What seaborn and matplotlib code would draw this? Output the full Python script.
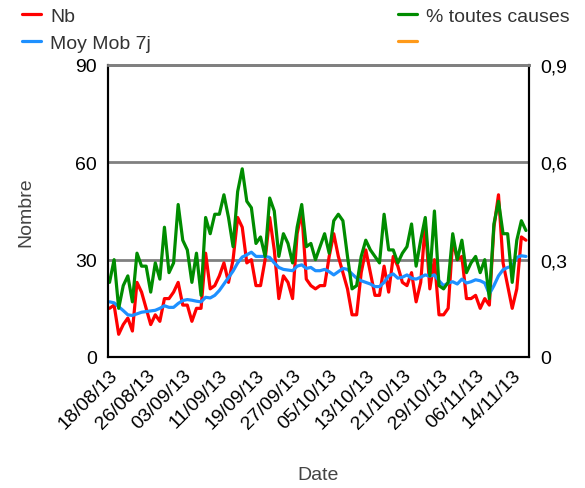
import pandas as pd
import seaborn as sns
import matplotlib.pyplot as plt
from matplotlib.ticker import FuncFormatter

# daily values, 18/08/13 -> 17/11/13
dates = pd.date_range("2013-08-18", "2013-11-17", freq="D")

nb = [15, 16, 7, 10, 12, 8, 23, 20, 15, 10, 13, 11, 18, 18, 20, 23, 16, 16, 11, 15, 15,
      32, 21, 22, 25, 29, 23, 30, 43, 40, 29,
      30, 22, 22, 30, 43, 33, 18, 25, 23, 18,
      38, 45, 24, 22, 21, 22, 22, 31, 38, 31,
      26, 21, 13, 13, 26, 33, 26, 19, 19, 28,
      20, 31, 28, 23, 22, 26, 17, 23, 41, 21,
      30, 13, 13, 15, 36, 30, 31, 18, 18, 19,
      15, 18, 16, 40, 50, 29, 22, 15, 21, 37, 36]

moy_mob = [17, 16.7, 15.5, 14.3, 13, 12.8, 13.3, 13.8, 14, 14.2, 14.4,
           15, 15.8, 15.3, 15.3, 16.5, 17.4, 17.7, 17.5, 17.2, 17,
           18.4, 18.2, 19, 20.5, 22.5, 24.5, 26.5, 29, 30.8, 31.5,
           32.3, 31, 31, 31, 30.7, 29, 27.6, 27, 26.8, 26.6,
           28, 28.4, 27.3, 27.6, 26.6, 26.6, 27, 26.3, 25.3, 26.3,
           27.3, 27, 25.6, 24.3, 23.5, 23, 22.5, 21.7, 21.7, 23,
           25, 25.6, 24.3, 24.6, 25.3, 24.3, 24, 24.6, 25.3, 24.9,
           25.3, 23.5, 22, 22.8, 23.2, 22.5, 24, 22.8, 23.2, 23.8,
           23.5, 22.8, 19.4, 22, 25, 26.9, 27.6, 28, 30.7, 31.2, 31]

pct_toutes_causes = [0.23, 0.30, 0.15, 0.22, 0.25, 0.17, 0.32, 0.28, 0.28, 0.20, 0.29,
                     0.24, 0.40, 0.26, 0.29, 0.47, 0.36, 0.33, 0.23, 0.32, 0.19,
                     0.43, 0.38, 0.44, 0.44, 0.50, 0.43, 0.34, 0.51, 0.58, 0.48,
                     0.46, 0.35, 0.37, 0.31, 0.49, 0.45, 0.31, 0.38, 0.35, 0.29,
                     0.40, 0.47, 0.34, 0.35, 0.30, 0.34, 0.38, 0.32, 0.42, 0.44,
                     0.42, 0.31, 0.21, 0.22, 0.31, 0.36, 0.33, 0.31, 0.29, 0.44,
                     0.33, 0.33, 0.29, 0.32, 0.34, 0.41, 0.28, 0.36, 0.43, 0.25,
                     0.45, 0.22, 0.21, 0.23, 0.38, 0.30, 0.36, 0.26, 0.29, 0.31,
                     0.26, 0.30, 0.18, 0.41, 0.48, 0.38, 0.38, 0.23, 0.36, 0.42, 0.39]

tick_labels = ["18/08/13", "26/08/13", "03/09/13", "11/09/13", "19/09/13", "27/09/13",
               "05/10/13", "13/10/13", "21/10/13", "29/10/13", "06/11/13", "14/11/13"]

df = pd.DataFrame({"date": dates, "Nb": nb, "Moy": moy_mob, "pct": pct_toutes_causes})

sns.set_style("white")
plt.rcParams['font.family'] = ['Liberation Sans', 'DejaVu Sans']

fig = plt.figure(figsize=(5.85, 4.89), dpi=100)
ax = fig.add_axes([108 / 585, 1 - 358 / 489, 421 / 585, 292 / 489])
ax2 = ax.twinx()

lw = 2.3
sns.lineplot(data=df, x="date", y="Nb", ax=ax, color="#ff0000", lw=lw, label="Nb", legend=False)
sns.lineplot(data=df, x="date", y="Moy", ax=ax, color="#1e90ff", lw=lw, label="Moy Mob 7j", legend=False)
sns.lineplot(data=df, x="date", y="pct", ax=ax2, color="#008c00", lw=lw, label="% toutes causes", legend=False)
orange, = ax2.plot([], [], color="#ff9a1a", lw=lw, label=" ")

ax.set_ylim(0, 90)
ax2.set_ylim(0, 0.9)
ax.set_yticks([0, 30, 60, 90])
ax2.set_yticks([0, 0.3, 0.6, 0.9])
ax2.yaxis.set_major_formatter(FuncFormatter(lambda v, p: "0" if v == 0 else f"{v:.1f}".replace(".", ",")))

ax.set_xlim(dates[0] - pd.Timedelta(hours=8), dates[-1] + pd.Timedelta(hours=16))
ax.set_xticks(dates[::8])
ax.set_xticklabels(tick_labels, rotation=45, ha="right", rotation_mode="anchor")

ax.grid(axis="y", color="#808080", lw=2)
ax.set_axisbelow(True)
for a in (ax, ax2):
    for s in a.spines.values():
        s.set_color("black")
        s.set_linewidth(1.5)
    a.spines["top"].set_color("#808080")
    a.spines["top"].set_linewidth(2)

fs = 14
ax.tick_params(axis="x", direction="inout", length=7, width=1.3, colors="black", labelsize=fs, pad=3)
ax.tick_params(axis="y", length=0, labelsize=fs, labelcolor="black", pad=8)
ax2.tick_params(axis="y", length=0, labelsize=fs, labelcolor="black", pad=8)

ax.set_xlabel("Date", fontsize=fs, color="#444444")
ax.set_ylabel("Nombre", fontsize=fs, color="#444444")
ax2.set_ylabel("")
ax.xaxis.set_label_coords(0.5, -0.375)
ax.yaxis.set_label_coords(-0.175, 0.5)

h1, l1 = ax.get_legend_handles_labels()
h2, l2 = ax2.get_legend_handles_labels()
leg_kw = dict(loc="upper left", frameon=False, borderaxespad=0, borderpad=0,
              handlelength=1.0, handletextpad=0.45, labelspacing=0.5, fontsize=fs,
              labelcolor="#333333")
fig.legend(handles=h1, labels=l1, bbox_to_anchor=(22 / 585, 1 - 8 / 489), **leg_kw)
fig.legend(handles=h2, labels=l2, bbox_to_anchor=(398 / 585, 1 - 8 / 489), **leg_kw)

fig.savefig("out.png", dpi=100)
